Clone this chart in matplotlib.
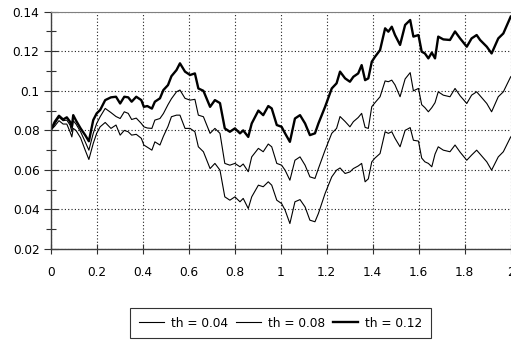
import matplotlib
matplotlib.use('Agg')
import matplotlib.pyplot as plt
from matplotlib.ticker import MultipleLocator

plt.rcParams['font.family'] = ['DejaVu Sans']

# time points
t = [0, 0.018, 0.036, 0.054, 0.07, 0.084, 0.092, 0.098, 0.11, 0.13,
     0.15, 0.166, 0.185, 0.2, 0.215, 0.237, 0.262, 0.284, 0.302, 0.32,
     0.337, 0.352, 0.372, 0.394, 0.405, 0.42, 0.44, 0.453, 0.475, 0.49,
     0.51, 0.525, 0.547, 0.562, 0.584, 0.606, 0.627, 0.642, 0.664, 0.693,
     0.714, 0.736, 0.757, 0.779, 0.801, 0.823, 0.837, 0.859, 0.874, 0.903,
     0.924, 0.946, 0.961, 0.983, 1.004, 1.019, 1.04, 1.062, 1.084, 1.106,
     1.127, 1.149, 1.164, 1.193, 1.222, 1.243, 1.258, 1.28, 1.301, 1.316,
     1.337, 1.352, 1.367, 1.381, 1.396, 1.41, 1.432, 1.454, 1.468, 1.483,
     1.497, 1.519, 1.541, 1.563, 1.577, 1.599, 1.613, 1.627, 1.642, 1.657,
     1.671, 1.685, 1.707, 1.736, 1.758, 1.78, 1.809, 1.83, 1.852, 1.867,
     1.896, 1.917, 1.946, 1.968, 2.0]

th_012 = [0.080, 0.0844, 0.0874, 0.0855, 0.0866, 0.0844, 0.0818, 0.0877, 0.0850, 0.0810,
          0.0776, 0.0745, 0.0852, 0.0886, 0.0903, 0.0953, 0.0967, 0.0970, 0.0936, 0.0970,
          0.0967, 0.0945, 0.0970, 0.0953, 0.0919, 0.0923, 0.0910, 0.0945, 0.0962, 0.1004,
          0.1029, 0.1074, 0.1105, 0.1139, 0.1097, 0.1080, 0.1088, 0.1012, 0.1000, 0.0919,
          0.0953, 0.0938, 0.0810, 0.0793, 0.0810, 0.0785, 0.0800, 0.0767, 0.0835, 0.0900,
          0.0877, 0.0923, 0.0911, 0.0827, 0.0818, 0.0785, 0.0742, 0.0860, 0.0877, 0.0835,
          0.0776, 0.0785, 0.0835, 0.0919, 0.1012, 0.1038, 0.1097, 0.1063, 0.1046, 0.1071,
          0.1088, 0.1130, 0.1054, 0.1063, 0.1147, 0.1172, 0.1206, 0.1316, 0.1299, 0.1324,
          0.1282, 0.1232, 0.1333, 0.1358, 0.1274, 0.1282, 0.1198, 0.1189, 0.1164, 0.1193,
          0.1164, 0.1274, 0.1260, 0.1257, 0.1300, 0.1265, 0.1223, 0.1265, 0.1282, 0.1257,
          0.1223, 0.1189, 0.1265, 0.1290, 0.1375]

th_008 = [0.080, 0.0832, 0.0866, 0.0849, 0.0852, 0.0827, 0.0793, 0.0849, 0.0832, 0.0793,
          0.0742, 0.0700, 0.0785, 0.0835, 0.0869, 0.0911, 0.0890, 0.0870, 0.0860, 0.0894,
          0.0886, 0.0855, 0.0862, 0.0835, 0.0818, 0.0812, 0.0810, 0.0852, 0.0860, 0.0885,
          0.0930, 0.0960, 0.0995, 0.1004, 0.0962, 0.0953, 0.0957, 0.0877, 0.0869, 0.0785,
          0.0810, 0.0785, 0.0633, 0.0624, 0.0633, 0.0616, 0.0630, 0.0591, 0.0666, 0.0709,
          0.0692, 0.0731, 0.0717, 0.0633, 0.0624, 0.0599, 0.0548, 0.0649, 0.0666, 0.0624,
          0.0565, 0.0557, 0.0607, 0.0700, 0.0785, 0.0810, 0.0870, 0.0845, 0.0818, 0.0844,
          0.0865, 0.0886, 0.0815, 0.0810, 0.0920, 0.0940, 0.0970, 0.1050, 0.1046, 0.1054,
          0.1030, 0.0970, 0.1060, 0.1092, 0.1000, 0.1012, 0.0930, 0.0915, 0.0894, 0.0915,
          0.0940, 0.0995, 0.0978, 0.0970, 0.1012, 0.0975, 0.0936, 0.0978, 0.0995, 0.0975,
          0.0936, 0.0894, 0.0970, 0.0995, 0.1071]

th_004 = [0.080, 0.0822, 0.0849, 0.0832, 0.0832, 0.0793, 0.0767, 0.0810, 0.0800, 0.0762,
          0.0700, 0.0653, 0.0734, 0.0785, 0.0818, 0.0840, 0.0810, 0.0827, 0.0776, 0.0800,
          0.0793, 0.0776, 0.0780, 0.0760, 0.0726, 0.0715, 0.0700, 0.0742, 0.0726, 0.0770,
          0.0820, 0.0869, 0.0877, 0.0877, 0.0810, 0.0810, 0.0793, 0.0717, 0.0692, 0.0607,
          0.0633, 0.0599, 0.0464, 0.0447, 0.0464, 0.0439, 0.0456, 0.0405, 0.0464, 0.0523,
          0.0515, 0.0540, 0.0523, 0.0447, 0.0430, 0.0397, 0.0329, 0.0439, 0.0450, 0.0413,
          0.0346, 0.0338, 0.0380, 0.0481, 0.0565, 0.0599, 0.0610, 0.0582, 0.0590, 0.0607,
          0.0620, 0.0633, 0.0540, 0.0555, 0.0641, 0.0660, 0.0683, 0.0793, 0.0785, 0.0793,
          0.0760, 0.0717, 0.0800, 0.0814, 0.0750, 0.0746, 0.0660, 0.0641, 0.0633, 0.0616,
          0.0680, 0.0717, 0.0700, 0.0692, 0.0726, 0.0690, 0.0649, 0.0675, 0.0700, 0.0680,
          0.0641, 0.0599, 0.0666, 0.0692, 0.0767]

x_ticks = [0, 0.2, 0.4, 0.6, 0.8, 1, 1.2, 1.4, 1.6, 1.8, 2]
x_labels = ['0', '0.2', '0.4', '0.6', '0.8', '1', '1.2', '1.4', '1.6', '1.8', '2']
y_ticks = [0.02, 0.04, 0.06, 0.08, 0.1, 0.12, 0.14]
y_labels = ['0.02', '0.04', '0.06', '0.08', '0.1', '0.12', '0.14']

fig = plt.figure(figsize=(5.11, 3.44), dpi=100)
ax = fig.add_axes([0.0992, 0.276, 0.9002, 0.690])

ax.plot(t, th_004, color='black', lw=0.8, label='th = 0.04')
ax.plot(t, th_008, color='black', lw=0.8, label='th = 0.08')
ax.plot(t, th_012, color='black', lw=1.7, label='th = 0.12')

ax.set_xlim(0, 2)
ax.set_ylim(0.02, 0.14)
ax.set_xticks(x_ticks)
ax.set_xticklabels(x_labels)
ax.set_yticks(y_ticks)
ax.set_yticklabels(y_labels)
ax.yaxis.set_minor_locator(MultipleLocator(0.01))

ax.grid(True, which='major', linestyle=(0, (1, 2)), color='#202020', lw=0.8)
ax.tick_params(which='both', direction='inout', labelsize=8.7, color='#303030', width=0.8)
ax.tick_params(axis='y', which='major', length=10, pad=3)
ax.tick_params(axis='y', which='minor', length=7)
ax.tick_params(axis='x', which='major', length=7, pad=9)

for side in ['left', 'bottom']:
    ax.spines[side].set_color('#404040')
    ax.spines[side].set_linewidth(1.0)
ax.spines['top'].set_color('#808080')
ax.spines['right'].set_visible(False)

leg = fig.legend(loc='center', bbox_to_anchor=(0.549, 0.061), ncol=3,
                 fontsize=8.7, frameon=True, fancybox=False, handlelength=2.1,
                 handletextpad=0.6, columnspacing=0.6, borderpad=0.7,
                 borderaxespad=0)
leg.get_frame().set_edgecolor('black')
leg.get_frame().set_linewidth(0.8)

fig.savefig('out.png', dpi=100)
